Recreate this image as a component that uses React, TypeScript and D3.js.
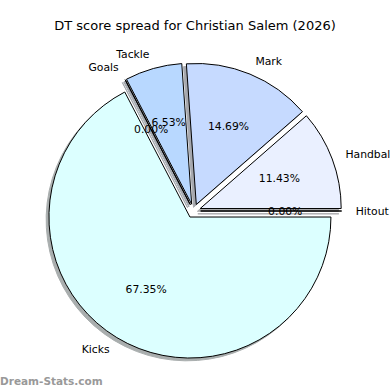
import React, { useEffect, useRef } from 'react';
import * as d3 from 'd3';

const categories = ['Hitout', 'Handball', 'Mark', 'Tackle', 'Goals', 'Kicks'];
const shares = [0.0, 11.43, 14.69, 6.53, 0.0, 67.35];
const colors = ['#eaf0ff', '#eaf0ff', '#c6daff', '#b8d8ff', '#b8d8ff', '#dcffff'];
const title = 'DT score spread for Christian Salem (2026)';

const App = () => {
  const svgRef = useRef<SVGSVGElement>(null);

  useEffect(() => {
    const width = 390;
    const height = 390;
    const cx = 193.6;
    const cy = 211;
    const radius = 141;
    const explode = 0.05 * radius;
    const font = 'DejaVu Sans, sans-serif';

    const svg = d3.select(svgRef.current);
    svg.selectAll('*').remove();
    svg.attr('width', width).attr('height', height);

    svg.append('rect').attr('width', width).attr('height', height).attr('fill', 'white');

    const data = categories.map((c, i) => ({ label: c, value: shares[i], color: colors[i] }));

    // counter-clockwise from 3 o'clock, like matplotlib
    const pie = d3.pie<any>()
      .sort(null)
      .value(d => d.value)
      .startAngle(Math.PI / 2)
      .endAngle(Math.PI / 2 - 2 * Math.PI);

    const arcs = pie(data);
    const arc = d3.arc<any>().innerRadius(0).outerRadius(radius);

    const offset = (d, dist) => {
      const a = (d.startAngle + d.endAngle) / 2;
      return [Math.sin(a) * dist, -Math.cos(a) * dist];
    };

    const shade = d => {
      const c = d3.rgb(d.data.color);
      return d3.rgb(c.r * 0.3, c.g * 0.3, c.b * 0.3).toString();
    };

    const g = svg.append('g').attr('transform', `translate(${cx},${cy})`);

    // shadows under every wedge
    g.selectAll('path.shadow')
      .data(arcs)
      .enter()
      .append('path')
      .attr('class', 'shadow')
      .attr('transform', d => {
        const [x, y] = offset(d, explode);
        return `translate(${x - 2.8},${y + 2.8})`;
      })
      .attr('d', arc)
      .attr('fill', shade)
      .attr('stroke', shade)
      .attr('stroke-width', 1)
      .attr('opacity', 0.45);

    g.selectAll('path.slice')
      .data(arcs)
      .enter()
      .append('path')
      .attr('class', 'slice')
      .attr('transform', d => {
        const [x, y] = offset(d, explode);
        return `translate(${x},${y})`;
      })
      .attr('d', arc)
      .attr('fill', d => d.data.color)
      .attr('stroke', 'black')
      .attr('stroke-width', 1)
      .attr('stroke-linejoin', 'round');

    // category labels at 1.1 r
    g.selectAll('text.label')
      .data(arcs)
      .enter()
      .append('text')
      .attr('class', 'label')
      .attr('x', d => offset(d, explode)[0] + offset(d, radius * 1.1)[0])
      .attr('y', d => offset(d, explode)[1] + offset(d, radius * 1.1)[1])
      .attr('text-anchor', d => (offset(d, 1)[0] > 0 ? 'start' : 'end'))
      .attr('dominant-baseline', 'central')
      .style('font-family', font)
      .style('font-size', '10.8px')
      .text(d => d.data.label);

    // percentage labels at 0.6 r
    g.selectAll('text.pct')
      .data(arcs)
      .enter()
      .append('text')
      .attr('class', 'pct')
      .attr('x', d => offset(d, explode)[0] + offset(d, radius * 0.6)[0])
      .attr('y', d => offset(d, explode)[1] + offset(d, radius * 0.6)[1])
      .attr('text-anchor', 'middle')
      .attr('dominant-baseline', 'central')
      .style('font-family', font)
      .style('font-size', '10.8px')
      .text(d => `${d.data.value.toFixed(2)}%`);

    svg.append('text')
      .attr('x', 195)
      .attr('y', 25)
      .attr('text-anchor', 'middle')
      .attr('dominant-baseline', 'central')
      .style('font-family', font)
      .style('font-size', '13px')
      .text(title);

    svg.append('text')
      .attr('x', 0)
      .attr('y', 385)
      .style('font-family', font)
      .style('font-size', '10.5px')
      .style('font-weight', 'bold')
      .attr('fill', '#999')
      .text('Dream-Stats.com');
  }, []);

  return (
    <div style={{ position: 'absolute', left: 0, top: 0 }}>
      <svg ref={svgRef}></svg>
    </div>
  );
};

export default App;
